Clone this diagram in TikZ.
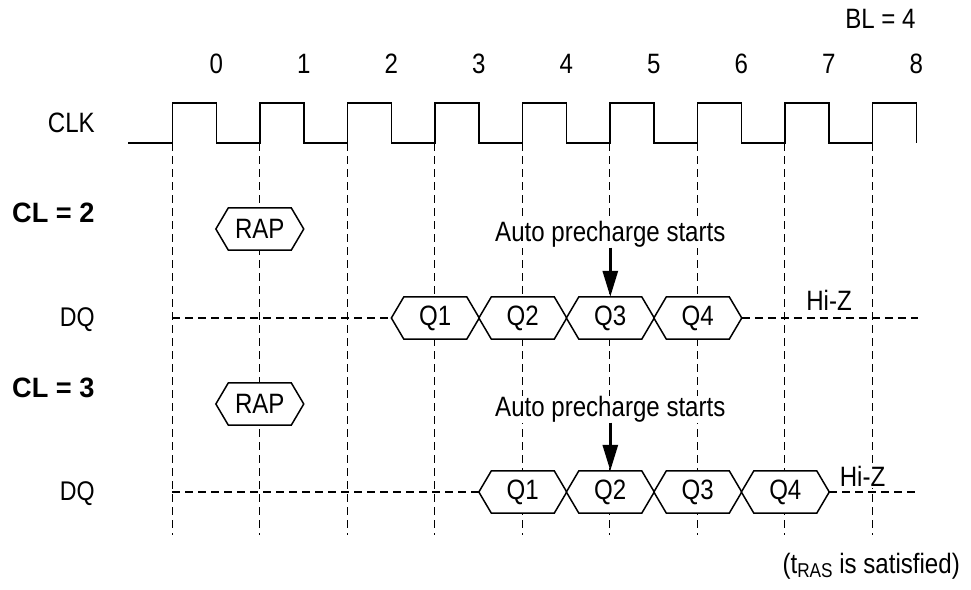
\documentclass[tikz,border=0pt]{standalone}
\usepackage{fontspec}
\setmainfont{Liberation Sans}[FakeStretch=0.86]
\newfontfamily\labbold{Liberation Sans}[FakeStretch=0.97]
\usetikzlibrary{arrows.meta}
\pgfdeclarelayer{back}
\pgfdeclarelayer{mid}
\pgfsetlayers{back,mid,main}
\newcommand\hexdraw[1]{\draw[hexline] (#1.west) -- ([xshift=12.5pt]#1.north west) -- ([xshift=-12.5pt]#1.north east) -- (#1.east) -- ([xshift=-12.5pt]#1.south east) -- ([xshift=12.5pt]#1.south west) -- cycle;}
\begin{document}
\begin{tikzpicture}[x=1pt,y=-1pt,
  txt/.style={font=\fontsize{28}{30}\selectfont, inner sep=0pt},
  lab/.style={font=\fontsize{27}{29}\selectfont, inner sep=0pt},
  clklab/.style={font=\fontsize{28}{30}\selectfont, inner sep=0pt},
  cllab/.style={font=\labbold\bfseries\fontsize{28}{30}\selectfont, inner sep=0pt},
  clkline/.style={line width=1.6pt, line join=miter},
  vgrid/.style={line width=1.1pt, dash pattern=on 8pt off 5pt},
  hexq/.style={txt, minimum width=87.5pt, minimum height=42pt},
  hexline/.style={line width=1.5pt, fill=white, line join=miter},
  arr/.style={line width=3pt, -{Triangle[length=26pt,width=15pt]}},
  bgtxt/.style={txt, fill=white, inner sep=1pt}
]
\useasboundingbox (0,0) rectangle (971,589);

% vertical dashed guides at the rising edges
\begin{pgfonlayer}{back}
\foreach \k in {0,...,8} {
  \coordinate (t\k) at ({172.3+87.5*\k},143);
  \coordinate (b\k) at ({172.3+87.5*\k},535);
  \draw[vgrid] (t\k) -- (b\k);
}
\end{pgfonlayer}

% clock
\draw[clkline] (128,143) \foreach \k in {0,...,8}{ -- ({172.3+87.5*\k},143) -- ++(0,-40) -- ++(44,0) -- ++(0,40) };

% labels
\node[txt, anchor=base] (bl) at (880.5,28.3) {BL = 4};
\foreach \k in {0,...,8} {
  \node[txt, anchor=base] (n\k) at ({216.3+87.5*\k},73) {\k};
}
\node[clklab, anchor=base east] (clk) at (95,132.7) {CLK};
\node[cllab, anchor=base west] (cl2) at (12,222) {CL = 2};
\node[lab, anchor=base east] (dqa) at (95,326.3) {DQ};
\node[cllab, anchor=base west] (cl3) at (12,397) {CL = 3};
\node[lab, anchor=base east] (dqb) at (95,500.5) {DQ};

% RAP boxes
\node[hexq] (rapa) at (259.8,229) {RAP};
\node[hexq] (rapb) at (259.8,404) {RAP};

% CL = 2 data
\node[hexq] (qa1) at (435.3,318) {Q1};
\node[hexq] (qa2) at (522.8,318) {Q2};
\node[hexq] (qa3) at (610.3,318) {Q3};
\node[hexq] (qa4) at (697.8,318) {Q4};
% CL = 3 data
\node[hexq] (qb1) at (522.8,492) {Q1};
\node[hexq] (qb2) at (610.3,492) {Q2};
\node[hexq] (qb3) at (697.8,492) {Q3};
\node[hexq] (qb4) at (785.3,492) {Q4};

\begin{pgfonlayer}{mid}
\foreach \n in {rapa,rapb,qa1,qa2,qa3,qa4,qb1,qb2,qb3,qb4} { \hexdraw{\n} }
\end{pgfonlayer}

% DQ idle lines
\coordinate (dqa0) at (172.3,318);
\coordinate (dqa9) at (918,318);
\coordinate (dqb0) at (172.3,492);
\coordinate (dqb9) at (915,492);
\begin{pgfonlayer}{back}
\draw[vgrid] (dqa0) -- (qa1.west);
\draw[vgrid] (qa4.east) -- (dqa9);
\draw[vgrid] (dqb0) -- (qb1.west);
\draw[vgrid] (qb4.east) -- (dqb9);
\end{pgfonlayer}

\node[bgtxt, anchor=base] (hza) at (829,310) {Hi-Z};
\node[bgtxt, anchor=base] (hzb) at (862.5,486.7) {Hi-Z};

% auto precharge
\node[txt, fill=white, anchor=base] (apa) at (610.3,241.7) {Auto precharge starts};
\node[txt, fill=white, anchor=base] (apb) at (610.3,416.7) {Auto precharge starts};
\draw[arr] (apa.south) -- (qa3.north);
\draw[arr] (apb.south) -- (qb2.north);

\node[txt, anchor=base east] (tras) at (960,573) {(t\raisebox{-4pt}{\fontsize{20}{20}\selectfont RAS} is satisfied)};
\end{tikzpicture}
\end{document}
